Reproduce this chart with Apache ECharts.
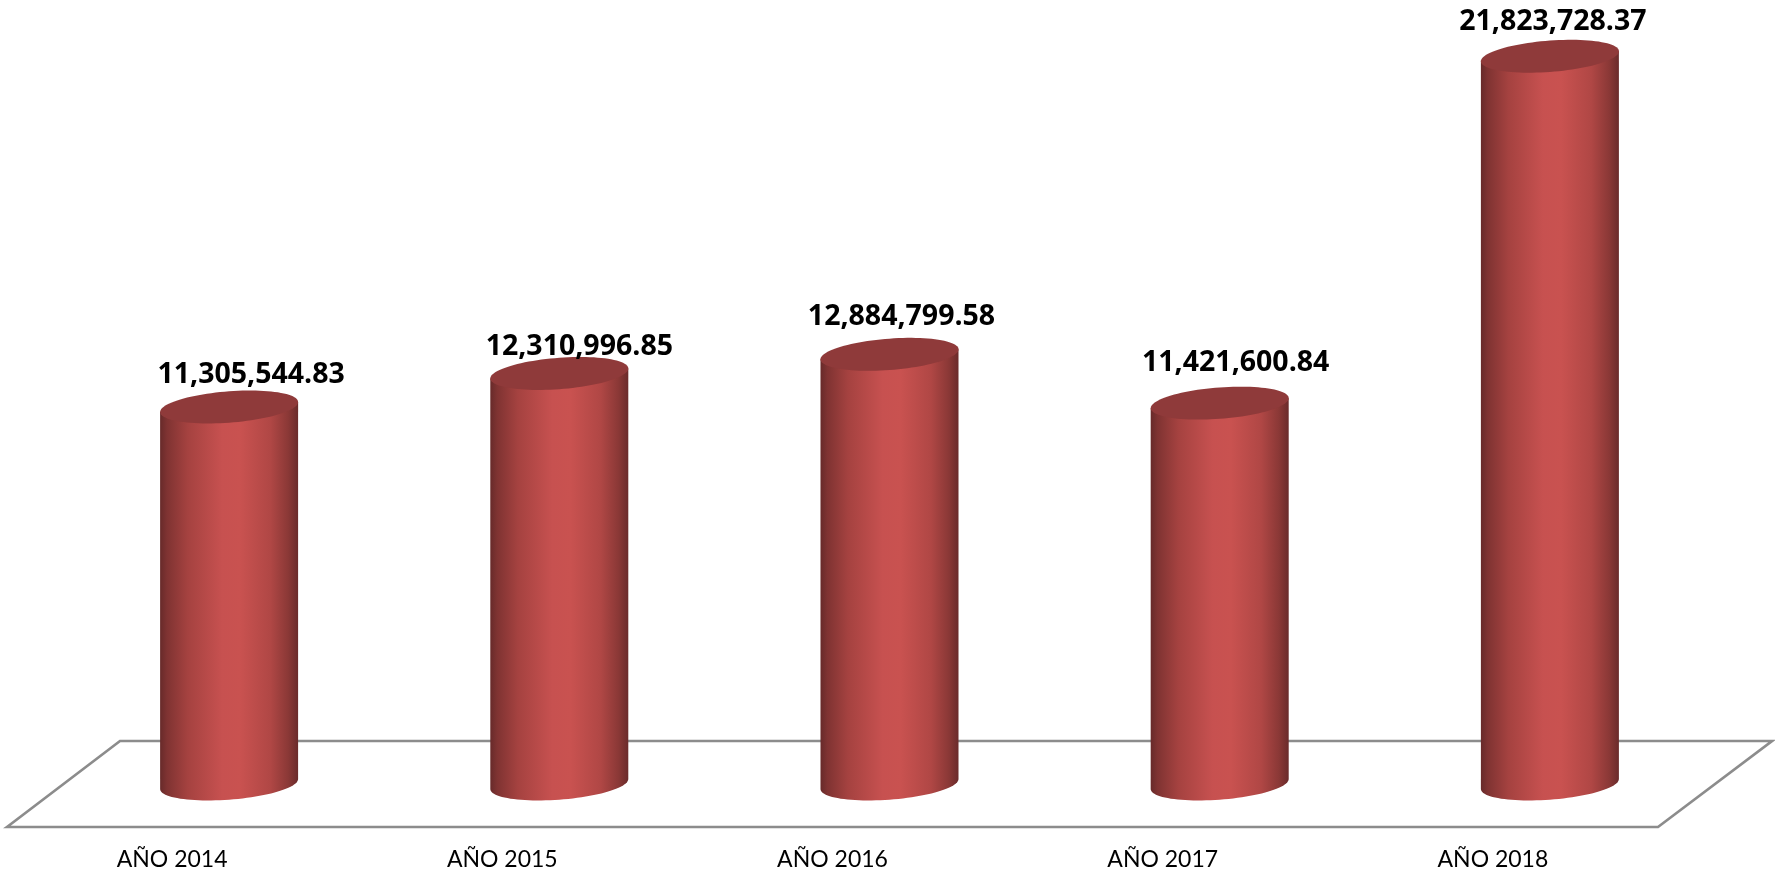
<!DOCTYPE html>
<html>
<head>
<meta charset="utf-8">
<style>html,body{margin:0;padding:0;background:#fff}#c{width:1775px;height:876px}</style>
<script src="https://cdn.jsdelivr.net/npm/echarts@6/dist/echarts.min.js"></script>
</head>
<body>
<div id="c"></div>
<script>
const categories = ['AÑO 2014','AÑO 2015','AÑO 2016','AÑO 2017','AÑO 2018'];
const values = [11305544.83, 12310996.85, 12884799.58, 11421600.84, 21823728.37];
// hand-placed data label offsets from the centre of each cylinder's top (px)
const labelDx = [22, 20, 12, 16, 3];
const labelDy = [-32, -27, -37, -40, -34];

const DEPTH_X = 57, DEPTH_Y = 43;   // cylinder base sits mid-way into the floor
const RX = 69, RY = 15.7, SKEW = 5; // tilted ellipse of each cylinder end
const FLOOR_DX = 114, FLOOR_DY = 86;

function ellipsePoint(cx, cy, t) {
  return [cx + RX * Math.cos(t), cy - SKEW * Math.cos(t) + RY * Math.sin(t)];
}
function arc(cx, cy, from, to, n) {
  const pts = [];
  for (let i = 0; i <= n; i++) pts.push(ellipsePoint(cx, cy, from + (to - from) * i / n));
  return pts;
}

const bodyFill = {type:'linear',x:0,y:0,x2:1,y2:0,colorStops:[
  {offset:0,color:'#672a2a'},{offset:0.05,color:'#7f3332'},{offset:0.2,color:'#a54240'},
  {offset:0.45,color:'#c75150'},{offset:0.58,color:'#c95250'},{offset:0.8,color:'#b04745'},
  {offset:0.93,color:'#8a3836'},{offset:1,color:'#6a2b2b'}]};

const chart = echarts.init(document.getElementById('c'), null, {renderer:'canvas'});
chart.setOption({
  animation:false,
  backgroundColor:'#ffffff',
  grid:{left:7, width:1651, top:0, height:827},
  xAxis:{type:'category', data:categories,
    axisLine:{show:false}, axisTick:{show:false}, splitLine:{show:false},
    axisLabel:{color:'#000000', fontFamily:'Lato', fontSize:23, margin:21}},
  yAxis:{type:'value', min:0, max:24800000, show:false, splitLine:{show:false}},
  series:[
    {type:'custom', name:'floor', z:1, silent:true, data:[0],
      renderItem(params, api){
        const r = params.coordSys;
        const b = r.y + r.height;
        return {type:'polygon', shape:{points:[
          [r.x,b],[r.x+FLOOR_DX-1,b-FLOOR_DY],[r.x+r.width+FLOOR_DX,b-FLOOR_DY],[r.x+r.width,b]]},
          style:{fill:'rgba(0,0,0,0)',stroke:'#8c8c8c',lineWidth:2.7}};
      }},
    {type:'custom', name:'valor', z:2, silent:true,
      encode:{x:0,y:1},
      data:categories.map((c,i)=>[i,values[i]]),
      renderItem(params, api){
        const i = api.value(0);
        const top = api.coord([i, api.value(1)]);
        const base = api.coord([i, 0]);
        const cx = top[0] + DEPTH_X;
        const yTop = top[1] - DEPTH_Y;
        const yBase = base[1] - DEPTH_Y;
        const body = [ellipsePoint(cx,yTop,Math.PI), ellipsePoint(cx,yTop,0)]
          .concat(arc(cx,yBase,0,Math.PI,48));
        const lid = arc(cx,yTop,0,Math.PI*2,96);
        return {type:'group', children:[
          {type:'polygon', shape:{points:body}, style:{fill:bodyFill}},
          {type:'polygon', shape:{points:lid}, style:{fill:'#8f3a3a'}},
          {type:'text', style:{
            x:cx+labelDx[i], y:yTop+labelDy[i],
            text:api.value(1).toLocaleString('en-US',{minimumFractionDigits:2,maximumFractionDigits:2}),
            align:'center', verticalAlign:'middle',
            fill:'#000000', font:'bold 28.5px "Open Sans"'}}
        ]};
      }}
  ]
});
</script>
</body>
</html>
